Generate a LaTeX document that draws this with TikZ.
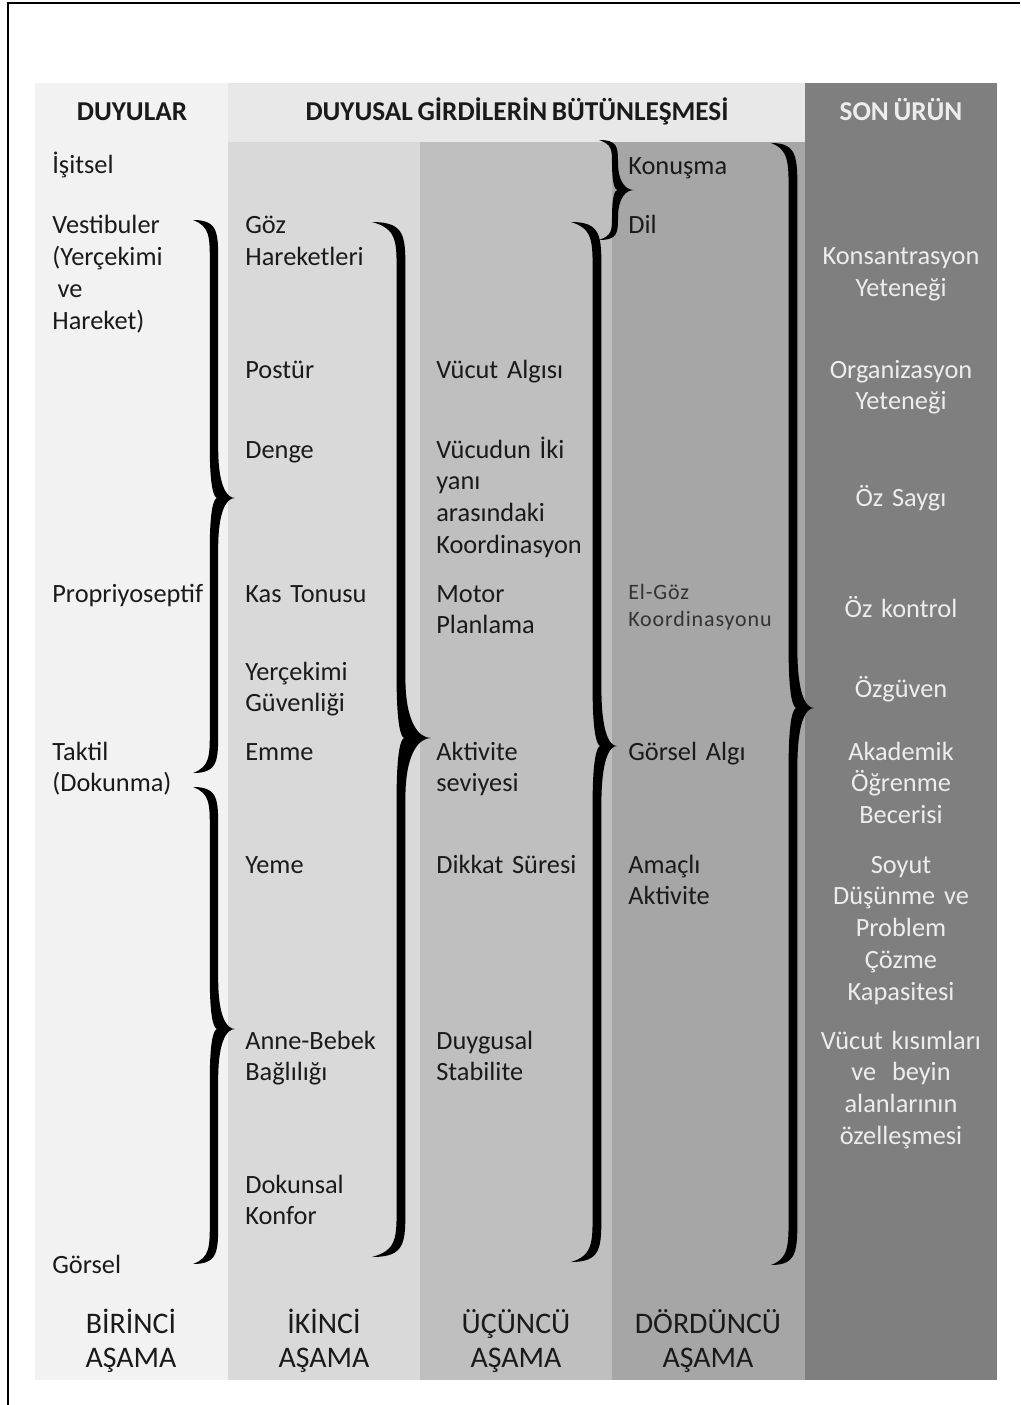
\documentclass[tikz,border=0pt]{standalone}
\usepackage{fontspec}
\setmainfont{Carlito}[WordSpace=0.75]
\newfontfamily\seyrek[LetterSpace=4,WordSpace=0.75]{Carlito}
\definecolor{birinci}{HTML}{F2F2F2}
\definecolor{ust}{HTML}{E8E8E8}
\definecolor{ikinci}{HTML}{D9D9D9}
\definecolor{ucuncu}{HTML}{BFBFBF}
\definecolor{dorduncu}{HTML}{A6A6A6}
\definecolor{son}{HTML}{7F7F7F}
\definecolor{yazirengi}{HTML}{1A1A1A}
\tikzstyle{yazi}=[anchor=base west,inner sep=0pt,text width=3.6cm,align=left,text=yazirengi,font=\fontsize{15}{18.2}\selectfont]
\tikzstyle{kucuk}=[yazi,text=black!80,font=\seyrek\fontsize{12.5}{15.9}\selectfont]
\tikzstyle{urun}=[anchor=base,inner sep=0pt,text width=3.8cm,align=center,text=white!93!black,font=\fontsize{15}{18.2}\selectfont]
\tikzstyle{baslik}=[anchor=base,inner sep=0pt,text=yazirengi,font=\bfseries\fontsize{15.5}{18}\selectfont]
\tikzstyle{asama}=[anchor=base,inner sep=0pt,text width=3.6cm,align=center,text=yazirengi,font=\fontsize{17}{19.9}\selectfont]
% xuc, xgovde, xuc2, yust, yorta, yalt, kivrim, kalinlik, sivri
\newcommand{\llave}[9]{%
  \fill[black] (#1,#4) .. controls ({#2+#8},#4) and ({#2+#8},{#4+0.3*#7}) .. ({#2+#8},{#4+#7})
    -- ({#2+#8},{#5-#9}) .. controls ({#2+#8},{#5-0.25*#9}) and ({#3-0.4*(#3-#2)},#5) .. (#3,#5)
    .. controls ({#3-0.4*(#3-#2)},#5) and ({#2+#8},{#5+0.25*#9}) .. ({#2+#8},{#5+#9})
    -- ({#2+#8},{#6-#7}) .. controls ({#2+#8},{#6-0.3*#7}) and ({#2+#8},#6) .. (#1,#6)
    .. controls ({#2-#8},{#6-1.5*#8}) and ({#2-#8},{#6-0.4*#7}) .. ({#2-#8},{#6-#7})
    -- ({#2-#8},{#5+#9}) .. controls ({#2-#8},{#5+0.2*#9}) and ({#2},#5) .. ({#2+0.8*#8},#5)
    .. controls ({#2},#5) and ({#2-#8},{#5-0.2*#9}) .. ({#2-#8},{#5-#9})
    -- ({#2-#8},{#4+#7}) .. controls ({#2-#8},{#4+0.4*#7}) and ({#2-#8},{#4+1.5*#8}) .. (#1,#4) -- cycle;}

\begin{document}
\begin{tikzpicture}[x=0.02cm,y=-0.02cm]
\useasboundingbox (0,0) rectangle (1020,1405);
\draw[line width=1.2pt] (8,1405) -- (8,3) -- (1020,3);
\fill[birinci] (35,83) rectangle (228,1380);
\fill[ust] (228,83) rectangle (805,142);
\fill[ikinci] (228,142) rectangle (420,1380);
\fill[ucuncu] (420,142) rectangle (612,1380);
\fill[dorduncu] (612,142) rectangle (805,1380);
\fill[son] (805,83) rectangle (997,1380);

\node[baslik] (duyular) at (132,121) {DUYULAR};
\node[baslik] (butunlesme) at (517,121) {DUYUSAL GİRDİLERİN BÜTÜNLEŞMESİ};
\node[baslik,text=white!93!black] (sonurun) at (901,121) {SON ÜRÜN};

\node[yazi] (isitsel) at (52,174) {İşitsel};
\node[yazi] (vestibuler) at (52,234) {Vestibuler\\(Yerçekimi\\\hspace*{3pt}ve\\Hareket)};
\node[yazi] (propriyo) at (52,602) {Propriyoseptif};
\node[yazi] (taktil) at (52,760) {Taktil\\(Dokunma)};
\node[yazi] (gorsel) at (52,1273) {Görsel};

\node[yazi] (goz) at (245,234) {Göz\\Hareketleri};
\node[yazi] (postur) at (245,378) {Postür};
\node[yazi] (denge) at (245,458) {Denge};
\node[yazi] (kastonusu) at (245,602) {Kas Tonusu};
\node[yazi] (guvenlik) at (245,680) {Yerçekimi\\Güvenliği};
\node[yazi] (emme) at (245,760) {Emme};
\node[yazi] (yeme) at (245,873) {Yeme};
\node[yazi] (baglilik) at (245,1049) {Anne-Bebek\\Bağlılığı};
\node[yazi] (konfor) at (245,1193) {Dokunsal\\Konfor};

\node[yazi] (algi) at (436,378) {Vücut Algısı};
\node[yazi] (koordinasyon) at (436,458) {Vücudun İki\\yanı\\arasındaki\\Koordinasyon};
\node[yazi] (planlama) at (436,602) {Motor\\Planlama};
\node[yazi] (seviye) at (436,760) {Aktivite\\seviyesi};
\node[yazi] (dikkat) at (436,873) {Dikkat Süresi};
\node[yazi] (stabilite) at (436,1049) {Duygusal\\Stabilite};

\node[yazi] (konusma) at (628,175) {Konuşma};
\node[yazi] (dil) at (628,234) {Dil};
\node[kucuk] (elgoz) at (628,599) {El-Göz\\Koordinasyonu};
\node[yazi] (gorselalgi) at (628,760) {Görsel Algı};
\node[yazi] (amacli) at (628,873) {Amaçlı\\Aktivite};

\node[urun] (konsantrasyon) at (901,265) {Konsantrasyon\\Yeteneği};
\node[urun] (organizasyon) at (901,378) {Organizasyon\\Yeteneği};
\node[urun] (ozsaygi) at (901,506) {Öz Saygı};
\node[urun] (ozkontrol) at (901,617) {Öz kontrol};
\node[urun] (ozguven) at (901,697) {Özgüven};
\node[urun] (akademik) at (901,760) {Akademik\\Öğrenme\\Becerisi};
\node[urun] (soyut) at (901,873) {Soyut\\Düşünme ve\\Problem\\Çözme\\Kapasitesi};
\node[urun] (ozellesme) at (901,1049) {Vücut kısımları\\ve\hspace{4pt} beyin\\alanlarının\\özelleşmesi};

\node[asama] (asama1) at (131,1333) {BİRİNCİ\\AŞAMA};
\node[asama] (asama2) at (324,1333) {İKİNCİ\\AŞAMA};
\node[asama] (asama3) at (516,1333) {ÜÇÜNCÜ\\AŞAMA};
\node[asama] (asama4) at (708,1333) {DÖRDÜNCÜ\\AŞAMA};

\llave{193}{214}{235}{220}{498}{773}{42}{4.2}{50}
\llave{193}{214}{235}{787}{1029}{1264}{42}{4.2}{50}
\llave{372}{401}{431}{222}{738}{1257}{48}{4.4}{60}
\llave{571}{597}{617}{222}{746}{1262}{48}{4.4}{58}
\llave{771}{793}{814}{143}{708}{1265}{48}{4.4}{58}
\llave{599}{615}{634}{140}{190}{240}{24}{3}{28}
\end{tikzpicture}
\end{document}
